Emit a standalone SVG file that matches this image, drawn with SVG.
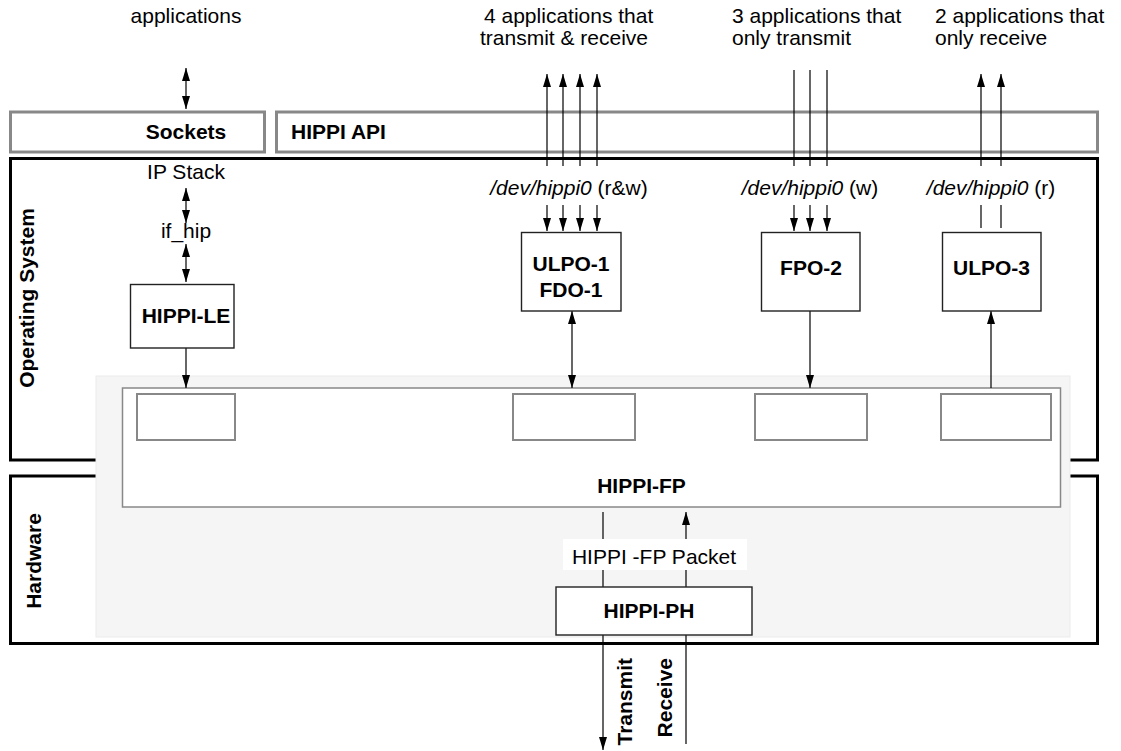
<svg xmlns="http://www.w3.org/2000/svg" width="1121" height="751" viewBox="0 0 1121 751">
  <defs>
    <style>
      text { font-family: "Liberation Sans", Arial, Helvetica, sans-serif; font-size: 21px; fill: #000; }
      .b { font-weight: bold; }
      .mid { text-anchor: middle; }
      .it { font-style: italic; }
      .api { fill: #fff; stroke: #888; stroke-width: 3; }
      .layer { fill: none; stroke: #000; stroke-width: 3; }
      .node { fill: #fff; stroke: #222; stroke-width: 1.4; }
      .slot { fill: #fff; stroke: #888; stroke-width: 2; }
      .wire { fill: none; stroke: #000; stroke-width: 1.2; }
      .one { marker-end: url(#ah); }
      .two { marker-start: url(#ah); marker-end: url(#ah); }
    </style>
    <marker id="ah" viewBox="0 0 13 8" refX="13" refY="4" markerWidth="13" markerHeight="8" markerUnits="userSpaceOnUse" orient="auto-start-reverse">
      <path d="M0,0 L13,4 L0,8 Z" fill="#000"/>
    </marker>
  </defs>

  <rect width="1121" height="751" fill="#fff"/>

  <!-- application labels -->
  <g id="apps">
    <text class="mid" x="186" y="23">applications</text>
    <text x="484" y="23">4 applications that</text>
    <text x="480" y="45">transmit &amp; receive</text>
    <text x="732" y="23">3 applications that</text>
    <text x="732" y="45">only transmit</text>
    <text x="935" y="23">2 applications that</text>
    <text x="935" y="45">only receive</text>
  </g>

  <!-- API layer -->
  <g id="sockets">
    <rect class="api" x="10.5" y="112" width="254" height="40"/>
    <text class="b mid" x="186" y="139">Sockets</text>
  </g>
  <g id="hippi-api">
    <rect class="api" x="276.5" y="112" width="821" height="40"/>
    <text class="b" x="291" y="139">HIPPI API</text>
  </g>

  <!-- system layers -->
  <g id="operating-system">
    <rect class="layer" x="10.5" y="158.5" width="1087" height="301.5"/>
    <text class="b mid" transform="translate(34,298) rotate(-90)">Operating System</text>
  </g>
  <g id="hardware">
    <rect class="layer" x="10.5" y="476" width="1087" height="167.5"/>
    <text class="b mid" transform="translate(41,561) rotate(-90)">Hardware</text>
  </g>

  <!-- framing protocol block spanning both layers -->
  <g id="hippi-fp">
    <rect x="96" y="376" width="974" height="261" fill="#f5f5f5" stroke="#ebebeb" stroke-width="1"/>
    <rect x="122.5" y="388" width="938" height="119" fill="#fff" stroke="#888" stroke-width="1.5"/>
    <rect class="slot" x="137" y="394" width="98" height="46"/>
    <rect class="slot" x="513" y="394" width="122" height="46"/>
    <rect class="slot" x="755" y="394" width="112" height="46"/>
    <rect class="slot" x="941" y="394" width="110" height="46"/>
    <text class="b mid" x="641.5" y="493">HIPPI-FP</text>
  </g>

  <!-- connectors -->
  <g id="connectors">
    <path class="wire two" d="M186,68 V109"/>
    <path class="wire two" d="M186,188 V223"/>
    <path class="wire two" d="M186,244 V282"/>
    <path class="wire one" d="M186,348 V388"/>

    <path class="wire one" d="M547,166 V74"/>
    <path class="wire one" d="M563,166 V74"/>
    <path class="wire one" d="M580,166 V74"/>
    <path class="wire one" d="M597,166 V74"/>
    <path class="wire one" d="M547,205 V231"/>
    <path class="wire one" d="M563,205 V231"/>
    <path class="wire one" d="M580,205 V231"/>
    <path class="wire one" d="M597,205 V231"/>

    <path class="wire" d="M794,70 V166"/>
    <path class="wire" d="M810,70 V166"/>
    <path class="wire" d="M827,70 V166"/>
    <path class="wire one" d="M794,205 V231"/>
    <path class="wire one" d="M810,205 V231"/>
    <path class="wire one" d="M827,205 V231"/>

    <path class="wire one" d="M981,166 V74"/>
    <path class="wire one" d="M1001,166 V74"/>
    <path class="wire" d="M981,205 V228"/>
    <path class="wire" d="M1001,205 V228"/>

    <path class="wire two" d="M572,311 V388"/>
    <path class="wire one" d="M810,311 V388"/>
    <path class="wire one" d="M991,388 V311"/>

    <path class="wire" d="M603,512 V587"/>
    <path class="wire one" d="M686,587 V512"/>
    <path class="wire one" d="M603,635 V750"/>
    <path class="wire" d="M686,744 V635"/>
  </g>

  <!-- stack labels -->
  <g id="ip-stack">
    <text class="mid" x="186" y="179">IP Stack</text>
  </g>
  <g id="if-hip">
    <text class="mid" x="186" y="238">if_hip</text>
  </g>
  <g id="dev-rw">
    <text class="mid" x="569" y="195"><tspan class="it">/dev/hippi0</tspan> (r&amp;w)</text>
  </g>
  <g id="dev-w">
    <text class="mid" x="810" y="195"><tspan class="it">/dev/hippi0</tspan> (w)</text>
  </g>
  <g id="dev-r">
    <text class="mid" x="991" y="195"><tspan class="it">/dev/hippi0</tspan> (r)</text>
  </g>

  <!-- protocol nodes -->
  <g id="hippi-le">
    <rect class="node" x="130.5" y="284.5" width="103.5" height="63.5"/>
    <text class="b mid" x="186" y="323">HIPPI-LE</text>
  </g>
  <g id="ulpo-1">
    <rect class="node" x="521.5" y="232.5" width="99.5" height="78.5"/>
    <text class="b mid" x="571" y="271">ULPO-1</text>
    <text class="b mid" x="571" y="297">FDO-1</text>
  </g>
  <g id="fpo-2">
    <rect class="node" x="761.5" y="232.5" width="98.5" height="78.5"/>
    <text class="b mid" x="811" y="275">FPO-2</text>
  </g>
  <g id="ulpo-3">
    <rect class="node" x="942.5" y="232.5" width="98.5" height="78.5"/>
    <text class="b mid" x="991.5" y="275">ULPO-3</text>
  </g>

  <g id="packet-label">
    <rect x="563" y="539" width="184" height="31" fill="#fff"/>
    <text class="mid" x="654" y="564">HIPPI -FP Packet</text>
  </g>

  <g id="hippi-ph">
    <rect class="node" x="556" y="587" width="196" height="48"/>
    <text class="b mid" x="649" y="618">HIPPI-PH</text>
  </g>

  <g id="line-labels">
    <text class="b" text-anchor="end" transform="translate(632,658) rotate(-90)">Transmit</text>
    <text class="b" text-anchor="end" transform="translate(672,658) rotate(-90)">Receive</text>
  </g>
</svg>
